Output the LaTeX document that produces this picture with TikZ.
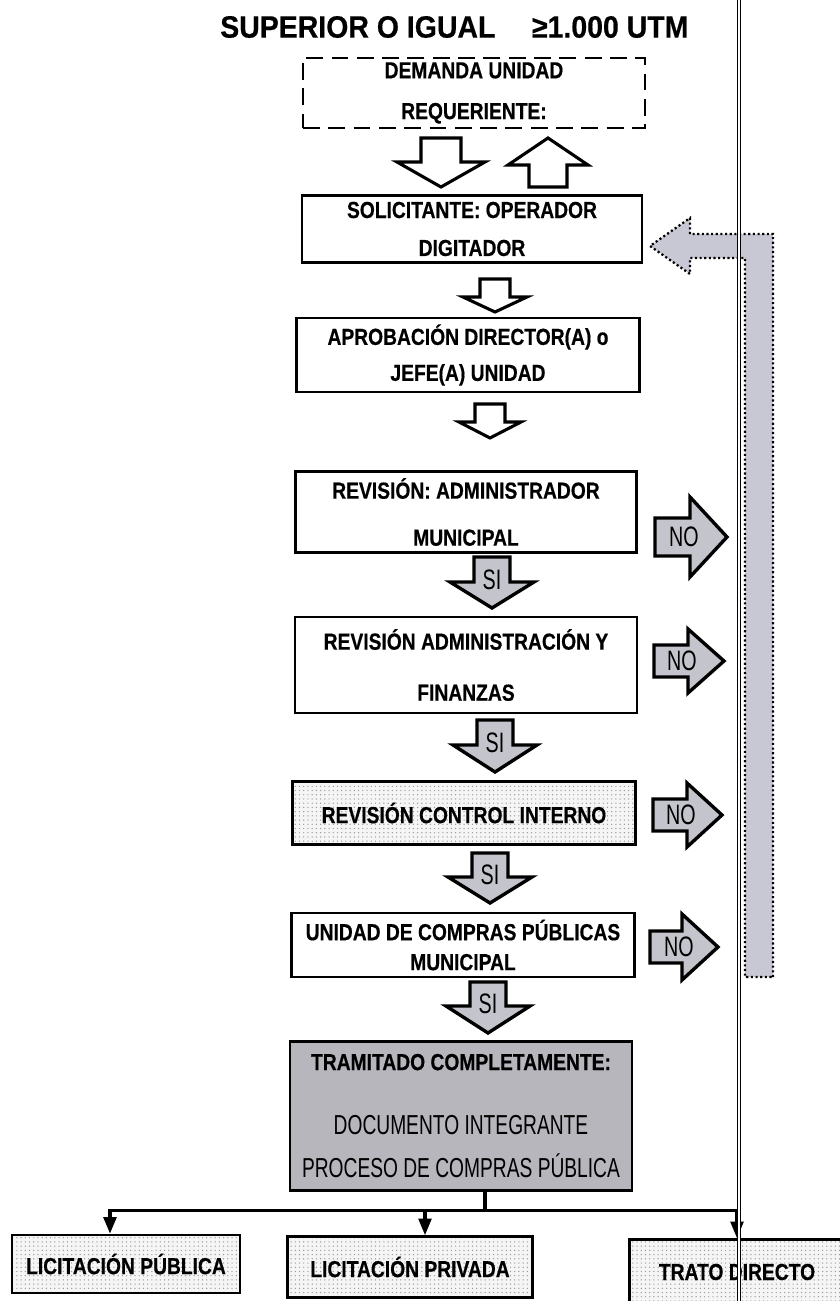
\documentclass[tikz,border=0pt]{standalone}
\usepackage{fontspec}
\setmainfont{Liberation Sans}
\newfontfamily\boxfont[FakeStretch=0.83, FakeBold=0.5]{Liberation Sans}
\newfontfamily\titlefont[FakeStretch=0.92, FakeBold=0.5]{Liberation Sans}
\newfontfamily\narrowfont[FakeStretch=0.7]{Liberation Sans}
\usetikzlibrary{arrows.meta, patterns}
\definecolor{arrowgray}{RGB}{196,196,204}
\definecolor{returngray}{RGB}{200,200,212}
\definecolor{boxgray}{RGB}{182,182,188}
\tikzset{
    flowbox/.style={draw, line width=1.6pt, inner sep=0pt, align=center,
        font=\boxfont\bfseries\fontsize{16.5}{18}\selectfont},
    demandbox/.style={flowbox, line width=1.3pt, dash pattern=on 12pt off 6pt},
    dotbox/.style={flowbox, preaction={fill=gray!8}, pattern=dots, pattern color=gray!80},
    graybox/.style={flowbox, fill=boxgray},
    hollow/.style={fill=white, draw=black, line width=2.2pt, line join=miter},
    answerarrow/.style={fill=arrowgray, draw=black, line width=2.4pt, line join=miter},
    returnarrow/.style={fill=returngray, draw=black, line width=1.6pt,
        dash pattern=on 1.5pt off 1.8pt, line join=miter},
    answer/.style={inner sep=0pt, font=\narrowfont\fontsize{20}{20}\selectfont},
    trunk/.style={line width=2.6pt},
    branch/.style={line width=2.6pt, -{Triangle[length=12pt, width=9pt]}},
    scanline/.style={double, double distance=1.4pt, line width=0.6pt}
}
% block arrows: style, x, start y, head base y, tip y, shaft half, head half
\newcommand{\flowv}[7]{\path[#1] (#2-#6,#3) -- (#2+#6,#3) -- (#2+#6,#4) -- (#2+#7,#4)
    -- (#2,#5) -- (#2-#7,#4) -- (#2-#6,#4) -- cycle;}
% block arrows: style, y, start x, head base x, tip x, shaft half, head half
\newcommand{\flowh}[7]{\path[#1] (#3,#2-#6) -- (#4,#2-#6) -- (#4,#2-#7) -- (#5,#2)
    -- (#4,#2+#7) -- (#4,#2+#6) -- (#3,#2+#6) -- cycle;}

\begin{document}
\begin{tikzpicture}[x=0.025cm, y=-0.025cm]
    \useasboundingbox (0,0) rectangle (840,1301);

    \node[anchor=west, inner sep=0pt, font=\titlefont\bfseries\fontsize{22}{24}\selectfont]
        (titulo) at (220,27) {SUPERIOR O IGUAL\hspace{26pt}≥1.000 UTM};

    % Return path for rejected requests
    \path[returnarrow] (773,977) -- (773,234) -- (690,234) -- (690,218) -- (650,246)
        -- (690,274) -- (690,258) -- (745,258) -- (745,977) -- cycle;

    % Boxes
    \node[demandbox, minimum width=8.55cm, minimum height=1.75cm] (demanda) at (474,93)
        {DEMANDA UNIDAD\\[11pt]REQUERIENTE:};
    \node[flowbox, minimum width=8.5cm, minimum height=1.675cm] (solicitante) at (472,229)
        {SOLICITANTE: OPERADOR\\[9pt]DIGITADOR};
    \node[flowbox, minimum width=8.575cm, minimum height=1.85cm] (aprobacion) at (468,355)
        {APROBACIÓN DIRECTOR(A) o\\[7.6pt]JEFE(A) UNIDAD};
    \node[flowbox, minimum width=8.525cm, minimum height=2.025cm] (revmun) at (466,512)
        {REVISIÓN: ADMINISTRADOR\\[15.4pt]MUNICIPAL};
    \node[flowbox, minimum width=8.55cm, minimum height=2.4cm] (revfin) at (466,665)
        {REVISIÓN ADMINISTRACIÓN Y\\[18.3pt]FINANZAS};
    \node[dotbox, minimum width=8.575cm, minimum height=1.575cm] (control) at (464,813)
        {REVISIÓN CONTROL INTERNO};
    \node[flowbox, minimum width=8.575cm, minimum height=1.6cm] (compras) at (463,945)
        {UNIDAD DE COMPRAS PÚBLICAS\\[3.3pt]MUNICIPAL};
    \node[graybox, minimum width=8.55cm, minimum height=3.725cm] (tramitado) at (461,1116)
        {TRAMITADO COMPLETAMENTE:\\[28pt]
         {\narrowfont\mdseries\fontsize{19.5}{18}\selectfont DOCUMENTO INTEGRANTE}\\[12.6pt]
         {\narrowfont\mdseries\fontsize{19.5}{18}\selectfont PROCESO DE COMPRAS PÚBLICA}};

    \node[dotbox, minimum width=5.7cm, minimum height=1.45cm] (licpub) at (126,1264)
        {LICITACIÓN PÚBLICA};
    \node[dotbox, minimum width=6.125cm, minimum height=1.525cm] (licpriv) at (410,1267)
        {LICITACIÓN PRIVADA};
    \node[dotbox, minimum width=5.375cm, minimum height=1.625cm] (trato) at (737,1272)
        {TRATO DIRECTO};

    % Block arrows down the column
    \flowv{hollow}{441}{138}{162}{187}{20}{44}
    \flowv{hollow}{548}{187}{165}{138}{19}{40}
    \flowv{hollow}{495}{279}{297}{312}{15}{32}
    \flowv{hollow}{490}{404}{422}{438}{15}{31}
    \flowv{answerarrow}{492}{557}{582}{608}{18}{42}
    \flowv{answerarrow}{495}{720}{745}{772}{18}{42}
    \flowv{answerarrow}{490}{853}{877}{903}{18}{42}
    \flowv{answerarrow}{488}{982}{1006}{1033}{18}{42}
    \node[answer] (si1) at (492,580) {SI};
    \node[answer] (si2) at (495,743) {SI};
    \node[answer] (si3) at (490,875) {SI};
    \node[answer] (si4) at (488,1004) {SI};

    % NO arrows towards the return path
    \flowh{answerarrow}{537}{655}{690}{727}{19}{40}
    \flowh{answerarrow}{661}{654}{688}{724}{16}{32}
    \flowh{answerarrow}{815}{653}{687}{722}{16}{32}
    \flowh{answerarrow}{947}{650}{682}{718}{16}{33}
    \node[answer] (no1) at (684,537) {NO};
    \node[answer] (no2) at (682,661) {NO};
    \node[answer] (no3) at (681,815) {NO};
    \node[answer] (no4) at (679,947) {NO};

    % Split into the three procedures
    \draw[trunk] ([xshift=0.6cm]tramitado.south) -- ++(0,19) coordinate (split);
    \draw[branch] (split) -| ([xshift=-0.4cm]licpub.north);
    \draw[branch] (split) -| ([xshift=0.375cm]licpriv.north);
    \draw[branch] (split) -| (trato.north);

    \draw[scanline] (739,0) -- (739,1301);

\end{tikzpicture}
\end{document}
